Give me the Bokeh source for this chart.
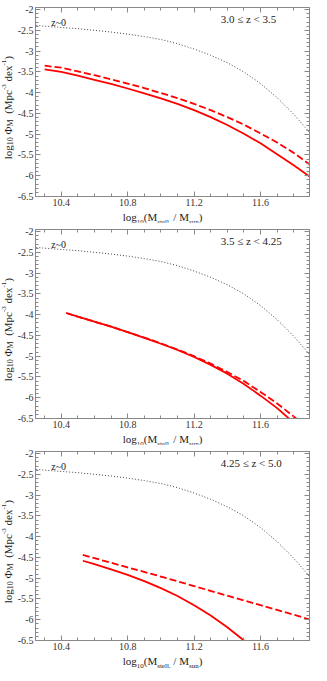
from bokeh.plotting import figure
from bokeh.models import Range1d, LinearAxis, SingleIntervalTicker, CustomJSTickFormatter, Label, Div
from bokeh.layouts import column, row
from bokeh.embed import file_html
from bokeh.resources import INLINE

# ---------------- data ----------------
z0_x = [10.25, 10.3, 10.4, 10.5, 10.6, 10.7, 10.8, 10.9, 11.0, 11.1, 11.2, 11.3, 11.4, 11.5, 11.6, 11.7, 11.8, 11.9]
z0_y = [-2.38, -2.40, -2.43, -2.46, -2.50, -2.54, -2.59, -2.65, -2.72, -2.82, -2.95, -3.10, -3.28, -3.50, -3.78, -4.12, -4.52, -4.98]

p1_x = [10.3, 10.4, 10.5, 10.6, 10.7, 10.8, 10.9, 11.0, 11.1, 11.2, 11.3, 11.4, 11.5, 11.6, 11.7, 11.8, 11.9]
p1_solid = [-3.44, -3.50, -3.59, -3.69, -3.79, -3.90, -4.02, -4.14, -4.27, -4.42, -4.59, -4.78, -4.99, -5.22, -5.48, -5.75, -6.03]
p1_dashed = [-3.35, -3.40, -3.49, -3.58, -3.68, -3.78, -3.89, -4.01, -4.13, -4.27, -4.42, -4.59, -4.77, -4.98, -5.20, -5.45, -5.74]

p2_x = [10.43, 10.5, 10.6, 10.7, 10.8, 10.9, 11.0, 11.1, 11.2, 11.3, 11.4, 11.5, 11.6, 11.7, 11.8, 11.9]
p2_solid = [-3.96, -4.05, -4.17, -4.29, -4.42, -4.56, -4.70, -4.85, -5.02, -5.21, -5.42, -5.67, -5.95, -6.25, -6.60, -7.00]
p2_dashed = [-3.96, -4.05, -4.17, -4.29, -4.42, -4.55, -4.69, -4.84, -5.00, -5.18, -5.38, -5.60, -5.86, -6.14, -6.45, -6.80]

p3_x = [10.53, 10.6, 10.7, 10.8, 10.9, 11.0, 11.1, 11.2, 11.3, 11.4, 11.5, 11.6]
p3_solid = [-4.58, -4.66, -4.79, -4.92, -5.07, -5.24, -5.43, -5.65, -5.90, -6.18, -6.50, -6.85]
p3_dx = [10.53, 10.8, 11.0, 11.2, 11.4, 11.6, 11.8, 11.9]
p3_dashed = [-4.44, -4.74, -4.96, -5.19, -5.42, -5.65, -5.88, -6.00]

z_ranges = ["3.0 \u2264 z < 3.5", "3.5 \u2264 z < 4.25", "4.25 \u2264 z < 5.0"]
z0_text = "z~0"

x_min, x_max = 10.245, 11.895
y_min, y_max = -6.5, -1.95

FONT = "Liberation Serif"
GRAY = "#888888"
RED = "#ff0000"

SUB7 = "font-size:7px;vertical-align:-3px;line-height:0"
XLABEL_HTML = (
    "<div style=\"width:297px;text-align:center;font-family:'Liberation Serif',serif;"
    "font-size:11px;line-height:11px;color:#222;white-space:nowrap;padding-left:0px\">"
    f"log<span style='{SUB7}'>10</span>"
    f"(M<span style='{SUB7}'>stell.</span>"
    f" / M<span style='{SUB7}'>sun</span>)</div>"
)

SUB8 = "font-size:8px;vertical-align:-3px;line-height:0"
SUP7 = "font-size:7px;vertical-align:4px;line-height:0"
YLABEL_HTML = (
    "<div style='height:202px;margin-top:7px;width:14px;padding-left:2px;box-sizing:border-box;"
    "display:flex;align-items:center;justify-content:center;'>"
    "<span style=\"writing-mode:vertical-rl;transform:rotate(180deg);"
    "font-family:'Liberation Serif',serif;font-size:11px;line-height:11px;color:#222;white-space:nowrap;\">"
    f"log<span style='{SUB8}'>10</span>"
    f" \u03a6<span style='{SUB8}'>M</span>"
    f"&nbsp; (Mpc<span style='{SUP7}'>-3</span>"
    f" dex<span style='{SUP7}'>-1</span>)</span></div>"
)


def style_axis(ax, labels=True):
    ax.axis_line_color = GRAY
    ax.major_tick_line_color = GRAY
    ax.minor_tick_line_color = GRAY
    ax.major_tick_in = 5
    ax.major_tick_out = 0
    ax.minor_tick_in = 3
    ax.minor_tick_out = 0
    ax.major_label_text_font = FONT
    ax.major_label_text_color = "#333333"
    if labels:
        ax.major_label_text_font_size = "10px"
        ax.major_label_standoff = 2
        ax.formatter = CustomJSTickFormatter(code="return String(Math.round(tick*100)/100)")
    else:
        ax.major_label_text_font_size = "0px"
        ax.major_label_standoff = 0
        ax.formatter = CustomJSTickFormatter(code="return ''")


def make_panel(solid_x, solid_y, dash_x, dash_y, ztxt, xdiv_h):
    p = figure(width=297, height=209, x_range=Range1d(x_min, x_max), y_range=Range1d(y_min, y_max),
               output_backend="svg", toolbar_location=None,
               min_border_left=16, min_border_right=2, min_border_top=7, min_border_bottom=13)
    p.grid.visible = False
    p.outline_line_color = GRAY
    p.background_fill_color = "white"

    xt = SingleIntervalTicker(interval=0.4, num_minor_ticks=4)
    yt = SingleIntervalTicker(interval=0.5, num_minor_ticks=5)
    p.xaxis.ticker = xt
    p.yaxis.ticker = yt
    for ax in p.xaxis + p.yaxis:
        style_axis(ax, True)
    top = LinearAxis(ticker=xt)
    right = LinearAxis(ticker=yt)
    style_axis(top, False)
    style_axis(right, False)
    p.add_layout(top, "above")
    p.add_layout(right, "right")

    p.line(z0_x, z0_y, line_color="#444444", line_width=1, line_dash="1 2")
    p.line(solid_x, solid_y, line_color=RED, line_width=1.8)
    p.line(dash_x, dash_y, line_color=RED, line_width=1.8, line_dash="7 3")

    p.add_layout(Label(x=10.34, y=-2.30, text=z0_text, text_font=FONT, text_font_size="10px",
                       text_color="#222222", text_baseline="middle", text_align="left"))
    p.add_layout(Label(x=11.36, y=-2.23, text=ztxt, text_font=FONT, text_font_size="11px",
                       text_color="#222222", text_baseline="middle", text_align="left"))

    xdiv = Div(text=XLABEL_HTML, width=297, height=xdiv_h, margin=0)
    ydiv = Div(text=YLABEL_HTML, width=14, height=209 + xdiv_h, margin=0)
    return row(ydiv, column(p, xdiv, spacing=0), spacing=0)


b1 = make_panel(p1_x, p1_solid, p1_x, p1_dashed, z_ranges[0], 13)
b2 = make_panel(p2_x, p2_solid, p2_x, p2_dashed, z_ranges[1], 13)
b3 = make_panel(p3_x, p3_solid, p3_dx, p3_dashed, z_ranges[2], 12)

layout = column(b1, b2, b3, spacing=0)
open("out.html", "w").write(file_html(layout, INLINE))
